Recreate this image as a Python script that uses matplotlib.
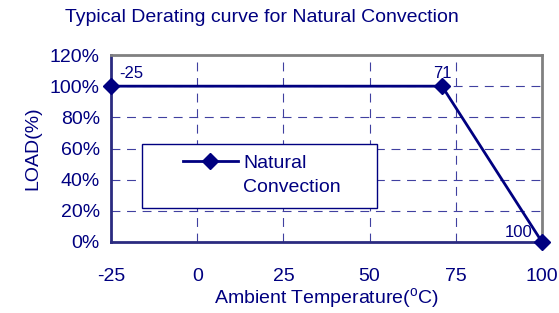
import matplotlib
matplotlib.use("Agg")
import matplotlib.pyplot as plt
from matplotlib.patches import Rectangle
from matplotlib.ticker import PercentFormatter

temps = [-25, 71, 100]
load = [100, 100, 0]
point_labels = ["-25", "71", "100"]
label_pos = [(-22.5, 105), (68.4, 105), (89.3, 3.2)]
xticks = [-25, 0, 25, 50, 75, 100]
yticks = [0, 20, 40, 60, 80, 100, 120]

navy = "#000080"
plt.rcParams['font.family'] = ['Liberation Sans', 'DejaVu Sans']
plt.rcParams['mathtext.fontset'] = 'custom'
plt.rcParams['mathtext.rm'] = 'Liberation Sans'
plt.rcParams['axes.unicode_minus'] = False

fig = plt.figure(figsize=(5.59, 3.13), dpi=100)
ax = fig.add_axes([111/559, 1-242/313, (542-111)/559, (242-55)/313])

ax.plot(temps, load, color=navy, lw=2, marker="D", markersize=8, label="Natural", clip_on=False, zorder=5)

ax.set_xlim(-25, 100)
ax.set_ylim(0, 120)
ax.set_xticks(xticks)
ax.set_yticks(yticks)
ax.yaxis.set_major_formatter(PercentFormatter(decimals=0))
ax.tick_params(axis="y", length=0, labelsize=14, labelcolor=navy, pad=8)
ax.tick_params(axis="x", length=0, labelsize=14, labelcolor=navy, pad=19)
ax.grid(True, color="#4040a0", ls=(0, (8, 6)), lw=0.8)

for side in ["left", "bottom"]:
  ax.spines[side].set_color("#2b2b80")
  ax.spines[side].set_linewidth(2)
for side in ["top", "right"]:
  ax.spines[side].set_color("#808080")
  ax.spines[side].set_linewidth(2)

for txt, (x, y) in zip(point_labels, label_pos):
  ax.text(x, y, txt, color=navy, fontsize=12, va="baseline")

# legend box
ax.add_patch(Rectangle((0.072, 0.182), 0.545, 0.342, transform=ax.transAxes, facecolor="white",
                       edgecolor=navy, lw=1, zorder=4))
leg = ax.legend(loc="center left", bbox_to_anchor=(0.167, 0.422), frameon=False, fontsize=14,
                labelcolor=navy, handlelength=2.83, handletextpad=0.26, borderpad=0, borderaxespad=0)
leg.set_zorder(6)
ax.text(0.306, 0.294, "Convection", transform=ax.transAxes, color=navy, fontsize=14, va="center", zorder=6)

fig.text(262/559, 1-17/313, "Typical Derating curve for Natural Convection", color=navy, fontsize=14,
         ha="center", va="center")
ax.set_xlabel("Ambient Temperature($^{\\mathrm{o}}$C)", color=navy, fontsize=14, labelpad=1)
ax.set_ylabel("LOAD(%)", color=navy, fontsize=14, labelpad=6)

fig.savefig("out.png", dpi=100)
